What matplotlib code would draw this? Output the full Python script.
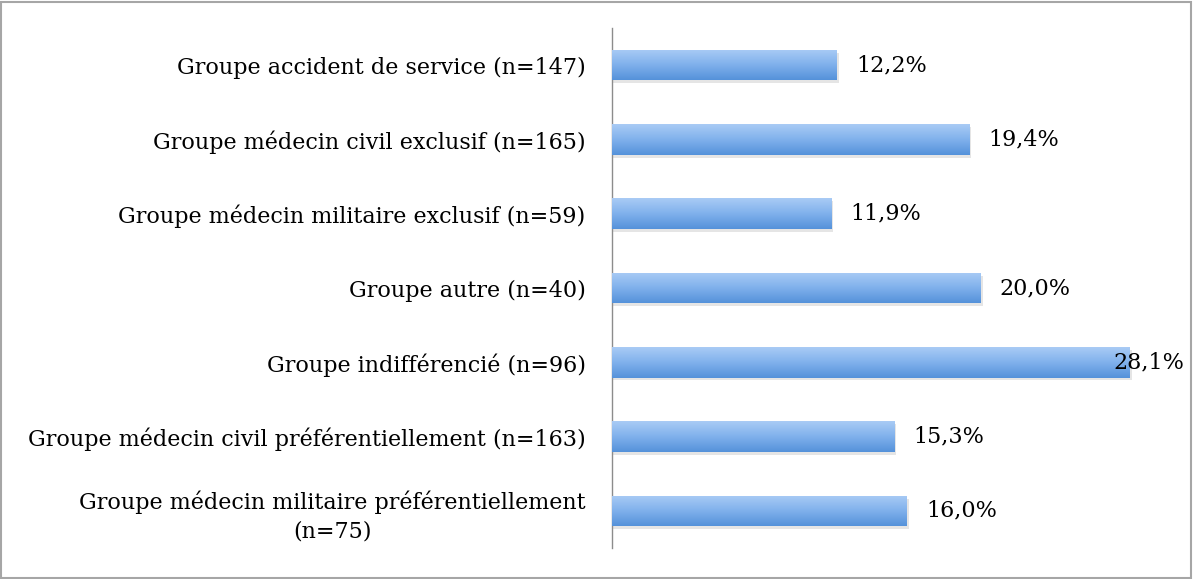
import matplotlib
matplotlib.use("Agg")
import matplotlib.pyplot as plt
import numpy as np
from matplotlib.patches import Rectangle
from matplotlib.colors import LinearSegmentedColormap

categories = [
    "Groupe accident de service (n=147)",
    "Groupe médecin civil exclusif (n=165)",
    "Groupe médecin militaire exclusif (n=59)",
    "Groupe autre (n=40)",
    "Groupe indifférencié (n=96)",
    "Groupe médecin civil préférentiellement (n=163)",
    "Groupe médecin militaire préférentiellement\n(n=75)",
]
values = [12.2, 19.4, 11.9, 20.0, 28.1, 15.3, 16.0]
value_labels = ["12,2%", "19,4%", "11,9%", "20,0%", "28,1%", "15,3%", "16,0%"]

plt.rcParams['font.family'] = ['DejaVu Serif']

fig = plt.figure(figsize=(11.93, 5.79), dpi=100)
fig.patch.set_facecolor('white')
fig.patches.append(Rectangle((0.001, 0.002), 0.997, 0.995, transform=fig.transFigure,
                             fill=False, edgecolor='#a6a6a6', linewidth=1.5))
ax = fig.add_axes([612/1193, 31/579, (1165-612)/1193, 520/579])

n = len(categories)
ypos = np.arange(n)[::-1]
bars = ax.barh(ypos, values, height=0.41, color='none', edgecolor='none', zorder=3)

grad = np.linspace(0, 1, 100).reshape(-1, 1)
cmap = LinearSegmentedColormap.from_list('g', ['#a9cbf5', '#80b1ec', '#5592da'])
for b in bars:
    x0, y0, w, h = b.get_x(), b.get_y(), b.get_width(), b.get_height()
    ax.add_patch(Rectangle((x0, y0 - 0.04), w + 0.1, h, color='#000000', alpha=0.10,
                           linewidth=0, zorder=2))
    im = ax.imshow(grad, extent=[x0, x0 + w, y0, y0 + h], aspect='auto', cmap=cmap,
                   origin='upper', zorder=3)
    im.set_clip_path(b)

ax.set_xlim(0, 30)
ax.set_ylim(-0.5, n - 0.5)
ax.set_yticks(ypos)
ax.set_yticklabels(categories, fontsize=16, ha='right')
for lbl in ax.get_yticklabels():
    lbl.set_multialignment('center')
    lbl.set_linespacing(1.35)
ax.tick_params(axis='y', length=0, pad=19)
ax.set_xticks([])
for s in ['top', 'right', 'bottom']:
    ax.spines[s].set_visible(False)
ax.spines['left'].set_color('#8c8c8c')
ax.spines['left'].set_linewidth(1.0)

vmax = max(values)
for y, v, t in zip(ypos, values, value_labels):
    off = -17 if v == vmax else 19
    ax.annotate(t, xy=(v, y), xytext=(off, 0), textcoords='offset pixels',
                ha='left', va='center', fontsize=16, zorder=5)

fig.savefig('out.png', dpi=100)
